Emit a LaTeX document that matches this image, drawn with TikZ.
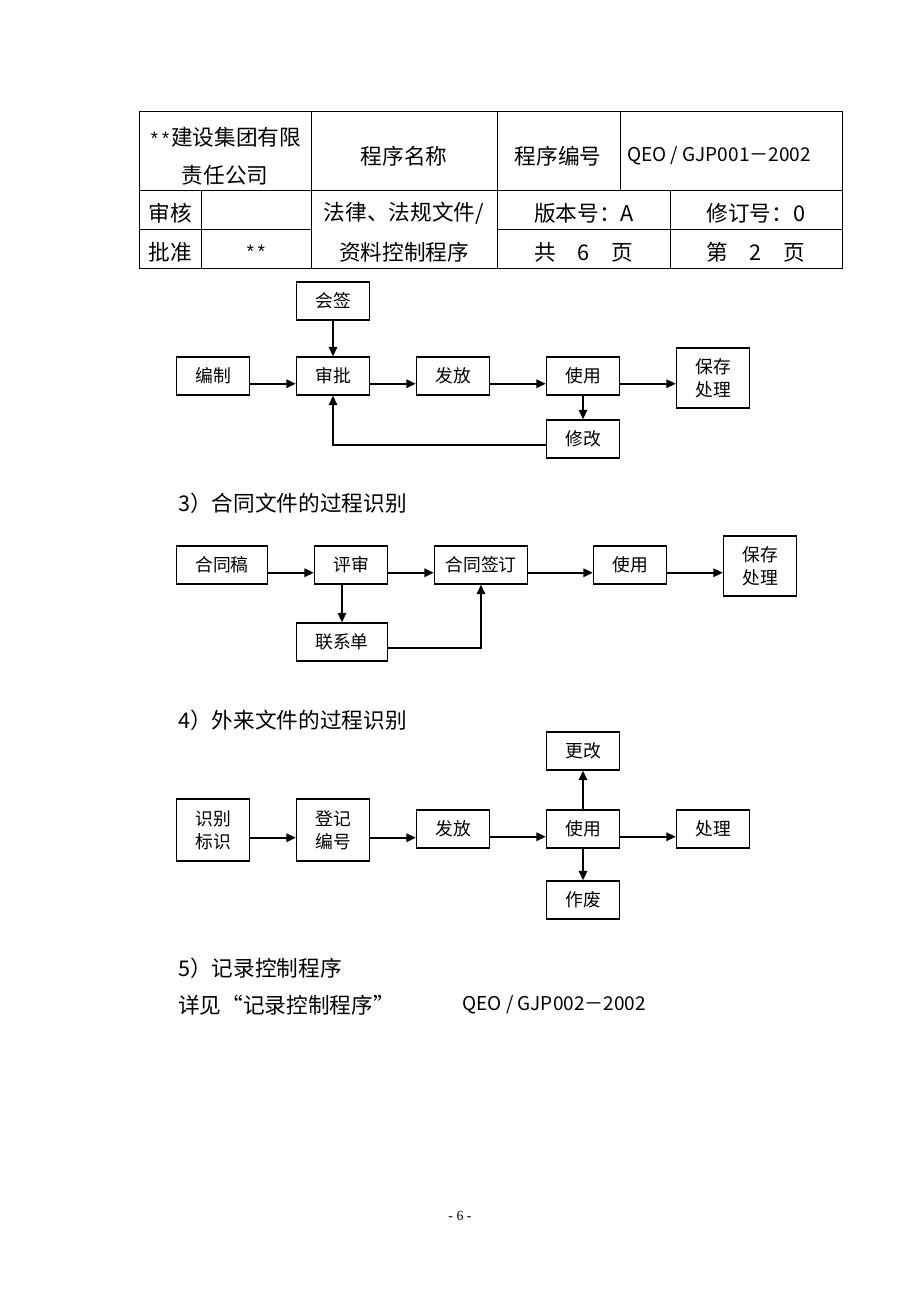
\documentclass[tikz,border=0pt]{standalone}
\usepackage{fontspec}
\setmainfont{Noto Sans CJK SC}
\newfontfamily\pagefont{Liberation Serif}
\newfontfamily\astfont{Liberation Mono}
\usepackage{tikz}
\usetikzlibrary{arrows.meta, positioning, calc}

\begin{document}
\begin{tikzpicture}[
    x=0.6467pt, y=-0.6467pt,
    every node/.style={font=\fontsize{14}{18}\selectfont, inner sep=0pt},
    box/.style={draw, line width=1pt, minimum width=47.2pt, minimum height=24.6pt, align=center, font=\fontsize{11.5}{15}\selectfont},
    wbox/.style={box, minimum width=59pt},
    tbox/.style={box, minimum height=39pt},
    arr/.style={line width=1pt, -{Triangle[length=6pt, width=5.5pt]}},
    rule/.style={line width=0.5pt},
    codetext/.style={font=\fontsize{12.3}{16}\selectfont}
]
    \useasboundingbox (0,0) rectangle (920,1302);

    % header table
    \draw[rule] (139,111) rectangle (842,268);
    \draw[rule] (139,190) -- (842,190);
    \draw[rule] (139,229) -- (311,229);
    \draw[rule] (497,229) -- (842,229);
    \draw[rule] (311,111) -- (311,268);
    \draw[rule] (497,111) -- (497,268);
    \draw[rule] (620,111) -- (620,190);
    \draw[rule] (201,190) -- (201,268);
    \draw[rule] (670,190) -- (670,268);

    \node (co1) at (225,137) {{\astfont\fontsize{12}{18}\selectfont **}建设集团有限};
    \node (co2) at (225,175) {责任公司};
    \node (pname) at (404,156) {程序名称};
    \node (pno) at (558,156) {程序编号};
    \node[codetext] (code) at (719,156) {QEO / GJP001－2002};
    \node (chk) at (170,213) {审核};
    \node (apv) at (170,252) {批准};
    \node (apvby) at (256,252) {{\astfont\fontsize{12}{18}\selectfont **}};
    \node (title1) at (404,213) {法律、法规文件/};
    \node (title2) at (404,252) {资料控制程序};
    \node (ver) at (584,213) {版本号：A};
    \node (rev) at (756,213) {修订号：0};
    \node (total) at (584,252) {共　6　页};
    \node (page) at (756,252) {第　2　页};

    % flow 1
    \node[box] (hq) at (333,301) {会签};
    \node[box] (bz) at (213,376) {编制};
    \node[box] (sp) at (333,376) {审批};
    \node[box] (ff) at (453,376) {发放};
    \node[box] (sy) at (583,376) {使用};
    \node[tbox] (bc) at (713,378) {保存\\处理};
    \node[box] (xg) at (583,439) {修改};

    \draw[arr] (hq) -- (sp);
    \draw[arr] ([yshift=-5pt]bz.east) -- ([yshift=-5pt]sp.west);
    \draw[arr] ([yshift=-5pt]sp.east) -- ([yshift=-5pt]ff.west);
    \draw[arr] ([yshift=-5pt]ff.east) -- ([yshift=-5pt]sy.west);
    \draw[arr] ([yshift=-5pt]sy.east) -- ([yshift=-5pt]sy.east -| bc.west);
    \draw[arr] (sy) -- (xg);
    \draw[arr] ([yshift=-4pt]xg.west) -| (sp.south);

    % flow 2
    \node[anchor=west] (h3) at (178,503) {3）合同文件的过程识别};
    \node[wbox] (htg) at (222,565) {合同稿};
    \node[box] (ps) at (351,565) {评审};
    \node[wbox, minimum width=60.2pt] (qd) at (481,565) {合同签订};
    \node[box] (sy2) at (630,565) {使用};
    \node[tbox] (bc2) at (760,566) {保存\\处理};
    \node[wbox] (lxd) at (342,642) {联系单};

    \draw[arr] ([yshift=-5pt]htg.east) -- ([yshift=-5pt]ps.west);
    \draw[arr] ([yshift=-5pt]ps.east) -- ([yshift=-5pt]qd.west);
    \draw[arr] ([yshift=-5pt]qd.east) -- ([yshift=-5pt]sy2.west);
    \draw[arr] ([yshift=-5pt]sy2.east) -- ([yshift=-5pt]sy2.east -| bc2.west);
    \draw[arr] (lxd.north |- ps.south) -- (lxd.north);
    \draw[arr] ([yshift=-4pt]lxd.east) -| (qd.south);

    % flow 3
    \node[anchor=west] (h4) at (178,720) {4）外来文件的过程识别};
    \node[box] (gg) at (583,751) {更改};
    \node[tbox, minimum height=40pt] (sb) at (213,830) {识别\\标识};
    \node[tbox, minimum height=40pt] (dj) at (333,830) {登记\\编号};
    \node[box] (ff3) at (453,829) {发放};
    \node[box] (sy3) at (583,829) {使用};
    \node[box] (cl) at (713,829) {处理};
    \node[box] (zf) at (583,900) {作废};

    \draw[arr] ([yshift=-5pt]sb.east) -- ([yshift=-5pt]sb.east -| dj.west);
    \draw[arr] ([yshift=-5pt]dj.east) -- ([yshift=-5pt]dj.east -| ff3.west);
    \draw[arr] ([yshift=-5pt]ff3.east) -- ([yshift=-5pt]sy3.west);
    \draw[arr] ([yshift=-5pt]sy3.east) -- ([yshift=-5pt]cl.west);
    \draw[arr] (sy3) -- (gg);
    \draw[arr] (sy3) -- (zf);

    % section 5
    \node[anchor=west] (h5) at (178,968) {5）记录控制程序};
    \node[anchor=west] (see) at (178,1005) {详见“记录控制程序”};
    \node[anchor=west, codetext] (code2) at (462,1005) {QEO / GJP002－2002};

    \node[font=\pagefont\fontsize{9}{11}\selectfont] (pgno) at (460,1216) {- 6 -};
\end{tikzpicture}
\end{document}
